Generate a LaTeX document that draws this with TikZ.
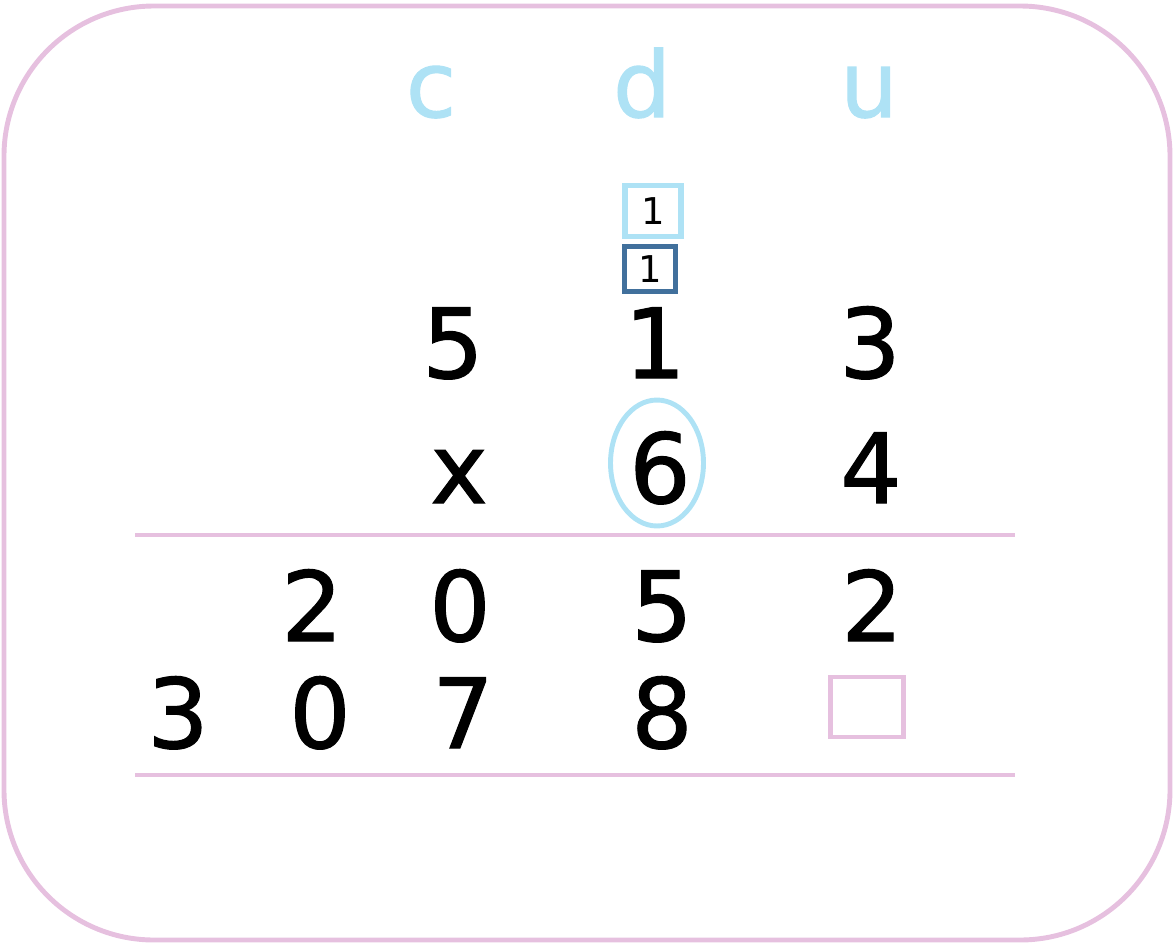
\documentclass[tikz,border=0pt]{standalone}
\usepackage{fontspec}
\setmainfont{DejaVu Sans}
\newfontfamily\handfont{DejaVu Sans}[FakeBold=1.2]
\usetikzlibrary{positioning}
\definecolor{pinkline}{HTML}{E6C0DF}
\definecolor{lightblue}{HTML}{AEE2F5}
\definecolor{darkblue}{HTML}{41709C}
\tikzstyle{digit} = [anchor=base, inner sep=0pt, font=\handfont\fontsize{55}{60}\selectfont]
\tikzstyle{place} = [anchor=base, inner sep=0pt, text=lightblue, font=\handfont\fontsize{52}{58}\selectfont]
\tikzstyle{carry} = [draw, rectangle, line width=3.4pt, inner sep=0pt, font=\fontsize{21}{24}\selectfont]
\tikzstyle{rule} = [draw=pinkline, line width=2.8pt]

\begin{document}
\begin{tikzpicture}[x=0.02cm, y=-0.02cm]

\useasboundingbox (0,0) rectangle (1174,944);
\coordinate (frameNW) at (4,6);
\coordinate (frameSE) at (1170,940);
\draw [pinkline, line width=2.8pt, rounded corners=3cm] (frameNW) rectangle (frameSE);

% place values
\node [place] (c) at (431,117) {c};
\node [place] (d) at (642,117) {d};
\node [place] (u) at (869,117) {u};

% carries
\node [carry, draw=lightblue, minimum width=1.12cm, minimum height=1.02cm] (carry1) at (653,211) {1};
\node [carry, draw=darkblue, minimum width=1.02cm, minimum height=0.9cm] (carry2) at (650,269) {1};

% factors
\node [digit] (a5) at (453,378) {5};
\node [digit] (a1) at (655,378) {1};
\node [digit] (a3) at (870,378) {3};
\node [digit] (times) at (459,503) {x};
\node [digit] (b6) at (660,503) {6};
\node [digit] (b4) at (871,503) {4};
\draw [lightblue, line width=2.8pt] (657,463) ellipse [x radius=0.93cm, y radius=1.26cm];

\coordinate (l1a) at (135,535);
\coordinate (l1b) at (1015,535);
\draw [rule] (l1a) -- (l1b);

% partial products
\node [digit] (p2) at (312,641) {2};
\node [digit] (p0) at (460,641) {0};
\node [digit] (p5) at (662,641) {5};
\node [digit] (p2b) at (872,641) {2};

\node [digit] (q3) at (178,748) {3};
\node [digit] (q0) at (320,748) {0};
\node [digit] (q7) at (463,748) {7};
\node [digit] (q8) at (662,748) {8};
\node [draw=pinkline, line width=2.8pt, minimum width=1.46cm, minimum height=1.2cm] (blank) at (867,707) {};

\coordinate (l2a) at (135,775);
\coordinate (l2b) at (1015,775);
\draw [rule] (l2a) -- (l2b);

\end{tikzpicture}
\end{document}
